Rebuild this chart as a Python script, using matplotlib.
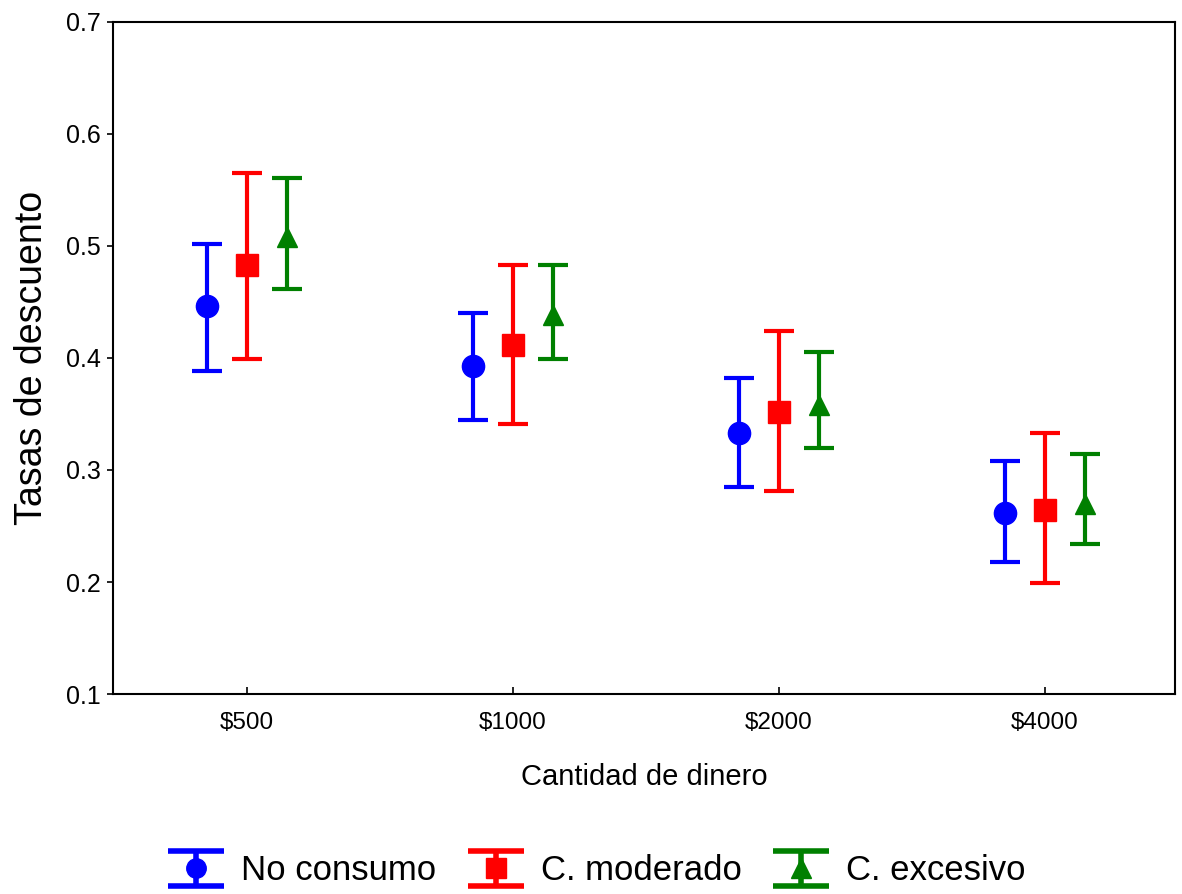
import matplotlib
matplotlib.use("Agg")
import matplotlib.pyplot as plt
from matplotlib.legend_handler import HandlerErrorbar
from matplotlib.collections import LineCollection
from matplotlib.lines import Line2D
import numpy as np

plt.rcParams['font.family'] = ['Liberation Sans', 'DejaVu Sans']

categories = ["$500", "$1000", "$2000", "$4000"]
series = ["No consumo", "C. moderado", "C. excesivo"]

no_consumo_mean = [0.446, 0.393, 0.333, 0.262]
no_consumo_low = [0.388, 0.345, 0.285, 0.218]
no_consumo_high = [0.502, 0.440, 0.382, 0.308]

moderado_mean = [0.483, 0.412, 0.352, 0.264]
moderado_low = [0.399, 0.341, 0.281, 0.199]
moderado_high = [0.565, 0.483, 0.424, 0.333]

excesivo_mean = [0.508, 0.438, 0.358, 0.270]
excesivo_low = [0.462, 0.399, 0.320, 0.234]
excesivo_high = [0.561, 0.483, 0.405, 0.314]

colors = ["#0000ff", "#ff0000", "#008000"]
markers = ["o", "s", "^"]
offsets = [-0.15, 0.0, 0.15]

fig = plt.figure(figsize=(11.82, 8.94), dpi=100)
ax = fig.add_axes([113 / 1182, 1 - 694 / 894, (1175 - 113) / 1182, (694 - 22) / 894])

x = np.arange(len(categories))
data = [
    (no_consumo_mean, no_consumo_low, no_consumo_high),
    (moderado_mean, moderado_low, moderado_high),
    (excesivo_mean, excesivo_low, excesivo_high),
]
handles = []
for (mean, low, high), c, m, off, name in zip(data, colors, markers, offsets, series):
    mean = np.array(mean)
    yerr = [mean - np.array(low), np.array(high) - mean]
    msize = 15 if m == "^" else 16
    h = ax.errorbar(x + off, mean, yerr=yerr, fmt=m, color=c, ecolor=c,
                    markersize=msize, elinewidth=3, capsize=11, capthick=3,
                    label=name, linestyle="none")
    handles.append(h)

ax.set_xlim(-0.505, 3.49)
ax.set_ylim(0.1, 0.7)
ax.set_yticks([0.1, 0.2, 0.3, 0.4, 0.5, 0.6, 0.7])
ax.set_yticklabels(["0.1", "0.2", "0.3", "0.4", "0.5", "0.6", "0.7"])
ax.set_xticks(x)
ax.set_xticklabels(categories)
ax.tick_params(axis="y", direction="out", length=4, width=1.2, labelsize=18, pad=5)
ax.tick_params(axis="x", direction="in", length=5, width=1.2, labelsize=17.5, pad=13)
for s in ax.spines.values():
    s.set_linewidth(1.5)

ax.set_xlabel("Cantidad de dinero", fontsize=21, labelpad=21)
ax.set_ylabel("Tasas de descuento", fontsize=27, labelpad=11)


def legend_style(leg_artist, orig):
    # copy the series style, then enlarge caps, bars and markers of the keys
    leg_artist.update_from(orig)
    if isinstance(leg_artist, LineCollection):
        leg_artist.set_linewidth(4)
    elif isinstance(leg_artist, Line2D):
        mk = leg_artist.get_marker()
        if mk == "_":
            leg_artist.set_markersize(41)
            leg_artist.set_markeredgewidth(4)
        elif mk in ("o", "s", "^"):
            leg_artist.set_markersize(14)


fig.legend(handles=handles, labels=series, loc="center", bbox_to_anchor=(0.505, 1 - 871 / 894),
           ncol=3, frameon=False, fontsize=25, handlelength=1.6, handletextpad=0.5,
           columnspacing=0.9,
           handler_map={h: HandlerErrorbar(update_func=legend_style) for h in handles})

fig.savefig("out.png", dpi=100)
